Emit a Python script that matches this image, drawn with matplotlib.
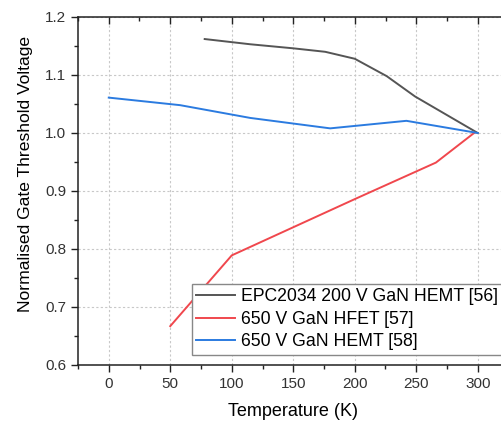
import matplotlib.pyplot as plt
from matplotlib.ticker import MultipleLocator

plt.rcParams['font.family'] = ['Liberation Sans', 'DejaVu Sans']

# EPC2034 200 V GaN HEMT [56]
t_epc = [78, 115, 150, 176, 200, 226, 249, 300]
v_epc = [1.162, 1.153, 1.146, 1.140, 1.128, 1.098, 1.063, 1.000]

# 650 V GaN HFET [57]
t_hfet = [50, 100, 200, 266, 297]
v_hfet = [0.667, 0.789, 0.886, 0.949, 1.000]

# 650 V GaN HEMT [58]
t_hemt = [0, 58, 115, 180, 242, 300]
v_hemt = [1.061, 1.048, 1.026, 1.008, 1.021, 1.000]

labels = ["EPC2034 200 V GaN HEMT [56]", "650 V GaN HFET [57]", "650 V GaN HEMT [58]"]
colors = ["#555555", "#f0474d", "#2b7be0"]

fig = plt.figure(figsize=(5.01, 4.22), dpi=100)
ax = fig.add_axes([78 / 501, 57 / 422, 430.5 / 501, 348 / 422])

ax.plot(t_epc, v_epc, color=colors[0], lw=1.4, label=labels[0])
ax.plot(t_hfet, v_hfet, color=colors[1], lw=1.4, label=labels[1])
ax.plot(t_hemt, v_hemt, color=colors[2], lw=1.4, label=labels[2])

ax.set_xlim(-25, 325)
ax.set_ylim(0.6, 1.2)
ax.xaxis.set_major_locator(MultipleLocator(50))
ax.xaxis.set_minor_locator(MultipleLocator(25))
ax.yaxis.set_major_locator(MultipleLocator(0.1))
ax.yaxis.set_minor_locator(MultipleLocator(0.05))
ax.yaxis.set_major_formatter(plt.FormatStrFormatter('%.1f'))

ax.grid(True, which='major', color='#c8c8c8', ls=(0, (2, 2)), lw=0.8)
ax.tick_params(axis='both', which='both', direction='out', labelsize=11,
               color='#222222', labelcolor='#333333')
ax.tick_params(which='major', length=5, width=1)
ax.tick_params(which='minor', length=3, width=1)
for sp in ax.spines.values():
    sp.set_linewidth(1.1)
    sp.set_color('#222222')

# inward ticks along the top spine
top = ax.twiny()
top.set_xlim(ax.get_xlim())
top.xaxis.set_major_locator(MultipleLocator(50))
top.xaxis.set_minor_locator(MultipleLocator(25))
top.tick_params(axis='x', which='both', direction='in', labeltop=False, color='#222222')
top.tick_params(which='major', length=5, width=1)
top.tick_params(which='minor', length=3, width=1)
for sp in top.spines.values():
    sp.set_visible(False)

ax.set_xlabel("Temperature (K)", fontsize=13, labelpad=9)
ax.set_ylabel("Normalised Gate Threshold Voltage", fontsize=12.6)
ax.yaxis.set_label_coords(-0.105, 0.549)

leg = ax.legend(loc='lower left', bbox_to_anchor=(0.264, 0.029), fontsize=12.7,
                frameon=True, fancybox=False, edgecolor='#888888', framealpha=1,
                handlelength=2.2, labelspacing=0.32, borderpad=0.25, handletextpad=0.35,
                borderaxespad=0)
leg.get_frame().set_linewidth(1.0)

fig.savefig("out.png", dpi=100)
